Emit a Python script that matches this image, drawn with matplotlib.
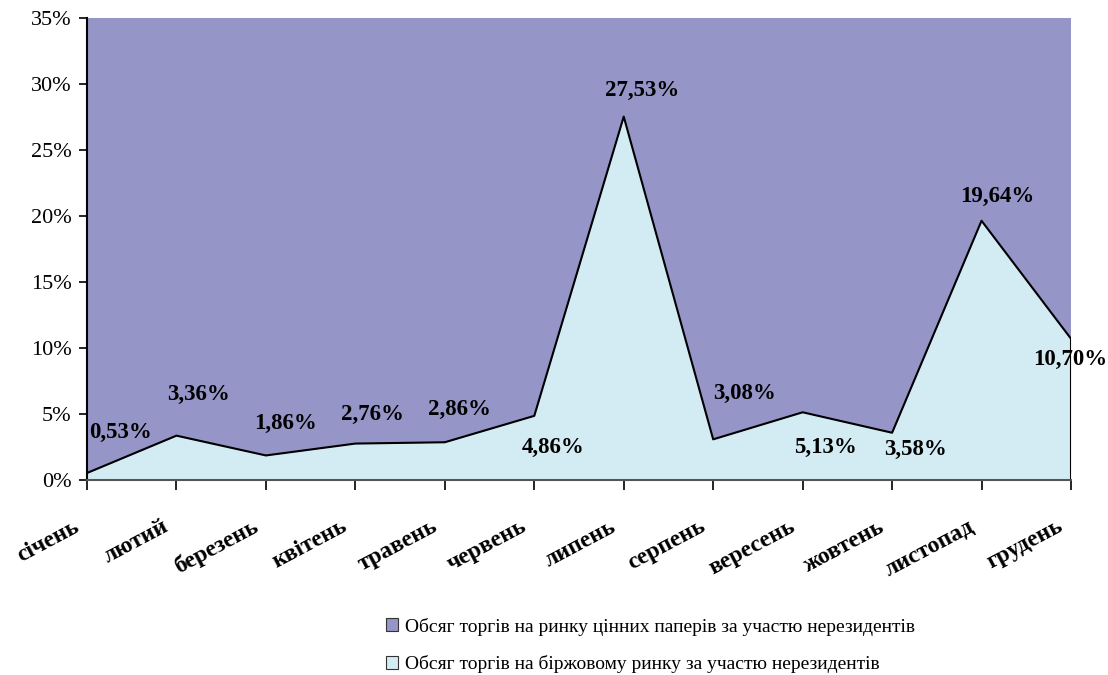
import matplotlib
matplotlib.use("Agg")
import matplotlib.pyplot as plt
from matplotlib.patches import Rectangle
from matplotlib.ticker import FuncFormatter

plt.rcParams['font.family'] = ['Liberation Serif', 'DejaVu Serif']

months = ['січень', 'лютий', 'березень', 'квітень', 'травень', 'червень',
          'липень', 'серпень', 'вересень', 'жовтень', 'листопад', 'грудень']
# частка біржового ринку, %
exchange = [0.53, 3.36, 1.86, 2.76, 2.86, 4.86, 27.53, 3.08, 5.13, 3.58, 19.64, 10.70]
# весь ринок цінних паперів, %
total = [100, 100, 100, 100, 100, 100, 100, 100, 100, 100, 100, 100]
labels = ['0,53%', '3,36%', '1,86%', '2,76%', '2,86%', '4,86%',
          '27,53%', '3,08%', '5,13%', '3,58%', '19,64%', '10,70%']
series_names = ['Обсяг торгів на ринку цінних паперів за участю нерезидентів',
                'Обсяг торгів на біржовому ринку за участю нерезидентів']

# label offsets in pixels (dx, dy)
offs = [(33, 41), (22, 41), (20, 32), (17, 29), (15, 33), (19, -32),
        (18, 26), (31, 46), (23, -35), (23, -17), (16, 24), (-1, -21)]

purple = '#9595C8'
light = '#D3ECF3'

fig = plt.figure(figsize=(11.08, 6.75), dpi=100)
ax = fig.add_axes([87/1108, 1 - 480/675, (1071-87)/1108, (480-18)/675])

x = list(range(len(months)))
ax.fill_between(x, 0, total, color=purple, lw=0)
ax.fill_between(x, 0, exchange, color=light, lw=0)
ax.plot(x + [x[-1]], exchange + [0], color='black', lw=1.5)

ax.set_xlim(0, len(months) - 1)
ax.set_ylim(0, 35)
ax.set_yticks(range(0, 36, 5))
ax.yaxis.set_major_formatter(FuncFormatter(lambda v, p: f'{v:.0f}%'))
ax.tick_params(axis='y', labelsize=16, length=6, width=1.2, direction='out', pad=5)
ax.tick_params(axis='x', length=7, width=1.2, direction='out', pad=0)
ax.set_xticks(x)
ax.set_xticklabels([])
for i, m in enumerate(months):
    ax.annotate(m, (i, 0), xycoords='data', xytext=(-14, -36), textcoords='offset pixels',
                rotation=28, ha='right', va='top', fontsize=17, fontweight='bold',
                rotation_mode='anchor')

for i, (v, lab) in enumerate(zip(exchange, labels)):
    dx, dy = offs[i]
    ax.annotate(lab, (i, v), xytext=(dx, dy), textcoords='offset pixels',
                ha='center', va='center', fontsize=16.5, fontweight='bold', annotation_clip=False)

for s in ['top', 'right']:
    ax.spines[s].set_visible(False)
ax.spines['left'].set_linewidth(1.5)
ax.spines['bottom'].set_color('#555555')
ax.spines['bottom'].set_linewidth(1.5)

handles = [Rectangle((0, 0), 1, 1, facecolor=purple, edgecolor='#333333', lw=0.8),
           Rectangle((0, 0), 1, 1, facecolor=light, edgecolor='#333333', lw=0.8)]
fig.legend(handles, series_names, loc='upper left', bbox_to_anchor=(368/1108, 1 - 600/675),
           frameon=False, fontsize=14, handlelength=0.65, handleheight=0.65,
           handletextpad=0.35, labelspacing=1.0)

fig.savefig('out.png', dpi=100)
